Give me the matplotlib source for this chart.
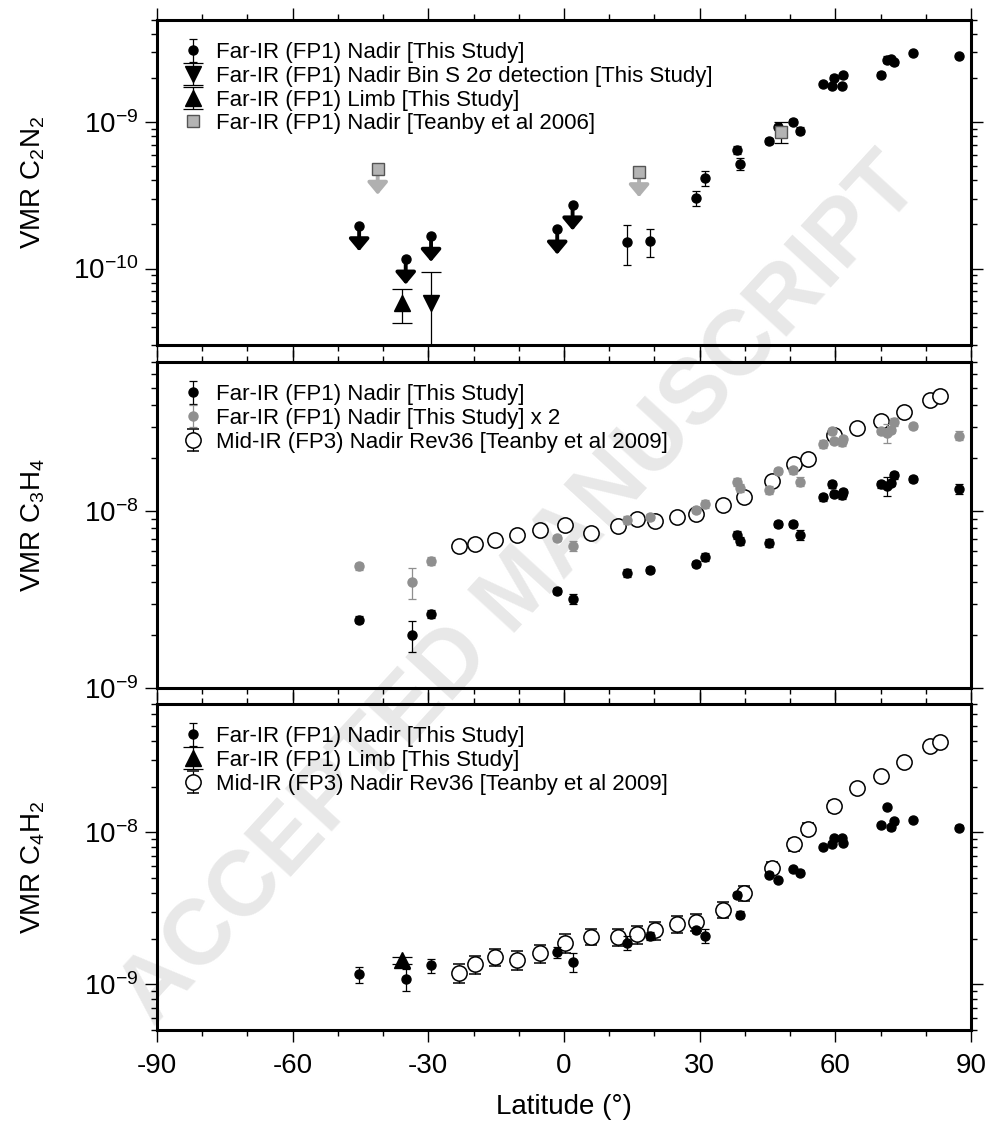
import numpy as np
import matplotlib.pyplot as plt
from matplotlib.ticker import MultipleLocator, LogLocator, NullFormatter

plt.rcParams['font.family'] = ['Liberation Sans', 'DejaVu Sans']
plt.rcParams['mathtext.fontset'] = 'custom'
plt.rcParams['mathtext.rm'] = 'Liberation Sans'
plt.rcParams['mathtext.it'] = 'Liberation Sans:italic'
plt.rcParams['mathtext.bf'] = 'Liberation Sans:bold'
plt.rcParams['axes.unicode_minus'] = False

# ---------------- C2N2 ----------------
c2n2_lat = [14.0, 19.1, 29.2, 31.2, 38.2, 39.0, 45.3, 47.3, 50.7, 52.1, 57.3, 59.3, 59.6,
            61.4, 61.8, 70.1, 71.5, 72.2, 73.0, 77.1, 87.4]
c2n2_vmr = [1.52e-10, 1.55e-10, 3.04e-10, 4.16e-10, 6.48e-10, 5.2e-10, 7.5e-10, 9.3e-10,
            1.01e-9, 8.78e-10, 1.82e-9, 1.78e-9, 2.02e-9, 1.78e-9, 2.09e-9, 2.12e-9,
            2.67e-9, 2.71e-9, 2.57e-9, 2.98e-9, 2.84e-9]
c2n2_hi = [1.97e-10, 1.87e-10, 3.41e-10, 4.67e-10, 6.9e-10, 5.66e-10, 7.85e-10, 9.6e-10,
           1.05e-9, 9.3e-10, 1.88e-9, 1.84e-9, 2.09e-9, 1.84e-9, 2.16e-9, 2.2e-9,
           2.85e-9, 2.8e-9, 2.66e-9, 3.08e-9, 2.94e-9]
c2n2_lo = [1.05e-10, 1.19e-10, 2.67e-10, 3.67e-10, 6.03e-10, 4.69e-10, 7.15e-10, 9.0e-10,
           9.7e-10, 8.3e-10, 1.76e-9, 1.72e-9, 1.95e-9, 1.72e-9, 2.02e-9, 2.05e-9,
           2.55e-9, 2.62e-9, 2.48e-9, 2.88e-9, 2.74e-9]
# upper limits (nadir, this study)
c2n2_ul_lat = [-45.3, -35.0, -29.4, -1.5, 1.9]
c2n2_ul_vmr = [1.96e-10, 1.16e-10, 1.66e-10, 1.86e-10, 2.72e-10]
# bin S 2 sigma detection
c2n2_det_lat = [-29.4]
c2n2_det_vmr = [5.85e-11]
c2n2_det_hi = [9.5e-11]
c2n2_det_lo = [1.0e-11]
# limb
c2n2_limb_lat = [-35.8]
c2n2_limb_vmr = [5.85e-11]
c2n2_limb_hi = [7.27e-11]
c2n2_limb_lo = [4.22e-11]
# Teanby et al 2006
t06_lat = [-41.2, 16.6, 47.9]
t06_vmr = [4.77e-10, 4.59e-10, 8.6e-10]
t06_upper = [True, True, False]
t06_hi = 1.0e-9
t06_lo = 7.16e-10

# ---------------- C3H4 ----------------
c3h4_lat = [-45.3, -33.6, -29.4, -1.5, 1.9, 14.0, 19.1, 29.2, 31.2, 38.2, 39.0, 45.3, 47.3,
            50.7, 52.1, 57.3, 59.3, 59.6, 61.4, 61.8, 70.1, 71.5, 72.2, 73.0, 77.1, 87.4]
c3h4_vmr = [2.44e-9, 2.0e-9, 2.62e-9, 3.53e-9, 3.19e-9, 4.47e-9, 4.66e-9, 5.06e-9, 5.52e-9,
            7.34e-9, 6.8e-9, 6.62e-9, 8.45e-9, 8.52e-9, 7.35e-9, 1.2e-8, 1.42e-8, 1.25e-8,
            1.24e-8, 1.28e-8, 1.42e-8, 1.39e-8, 1.45e-8, 1.6e-8, 1.52e-8, 1.34e-8]
c3h4_err = [1.2e-10, 4.0e-10, 1.3e-10, 1.4e-10, 2.0e-10, 2.2e-10, 1.9e-10, 2.0e-10, 2.8e-10,
            3.7e-10, 3.4e-10, 3.3e-10, 3.4e-10, 3.4e-10, 4.4e-10, 6.0e-10, 5.7e-10, 5.0e-10,
            6.2e-10, 5.1e-10, 5.7e-10, 1.65e-9, 5.8e-10, 8.0e-10, 6.1e-10, 8.0e-10]
c3h4_scale = 2

# Mid-IR FP3 Rev36 (Teanby et al 2009), same latitudes for both species
mir_lat = [-23.2, -19.7, -15.3, -10.4, -5.4, 0.2, 5.9, 11.9, 16.1, 20.1, 25.0, 29.2, 35.1,
           39.9, 46.0, 50.8, 53.9, 59.8, 64.8, 70.2, 75.1, 80.9, 83.1]
c3h4_mir_vmr = [6.4e-9, 6.53e-9, 6.89e-9, 7.38e-9, 7.81e-9, 8.37e-9, 7.58e-9, 8.26e-9,
                9.01e-9, 8.78e-9, 9.29e-9, 9.62e-9, 1.08e-8, 1.2e-8, 1.48e-8, 1.85e-8,
                1.97e-8, 2.69e-8, 2.97e-8, 3.25e-8, 3.67e-8, 4.25e-8, 4.48e-8]
c3h4_mir_err = [1.9e-10, 2.0e-10, 2.1e-10, 2.2e-10, 2.3e-10, 2.5e-10, 2.3e-10, 2.5e-10,
                2.7e-10, 2.6e-10, 2.8e-10, 2.9e-10, 3.2e-10, 3.6e-10, 4.4e-10, 5.5e-10,
                5.9e-10, 8.0e-10, 8.9e-10, 9.7e-10, 1.1e-9, 1.3e-9, 1.3e-9]

# ---------------- C4H2 ----------------
c4h2_lat = [-45.3, -35.0, -29.4, -1.5, 1.9, 14.0, 19.1, 29.2, 31.2, 38.2, 39.0, 45.3, 47.3,
            50.7, 52.1, 57.3, 59.3, 59.6, 61.4, 61.8, 70.1, 71.5, 72.2, 73.0, 77.1, 87.4]
c4h2_vmr = [1.16e-9, 1.08e-9, 1.33e-9, 1.63e-9, 1.4e-9, 1.88e-9, 2.08e-9, 2.28e-9, 2.09e-9,
            3.89e-9, 2.87e-9, 5.27e-9, 4.86e-9, 5.74e-9, 5.43e-9, 8.0e-9, 8.43e-9, 9.13e-9,
            9.13e-9, 8.5e-9, 1.12e-8, 1.47e-8, 1.08e-8, 1.18e-8, 1.21e-8, 1.07e-8]
c4h2_err = [1.45e-10, 1.8e-10, 1.4e-10, 1.3e-10, 2.0e-10, 2.0e-10, 1.3e-10, 1.2e-10, 2.3e-10,
            1.7e-10, 1.5e-10, 2.0e-10, 1.8e-10, 2.0e-10, 2.0e-10, 2.8e-10, 3.0e-10, 3.0e-10,
            3.0e-10, 3.0e-10, 4.0e-10, 5.0e-10, 4.0e-10, 4.0e-10, 4.0e-10, 4.0e-10]
c4h2_limb_lat = [-35.8]
c4h2_limb_vmr = [1.44e-9]
c4h2_limb_err = [7e-11]
c4h2_mir_vmr = [1.19e-9, 1.35e-9, 1.52e-9, 1.45e-9, 1.6e-9, 1.87e-9, 2.05e-9, 2.05e-9,
                2.13e-9, 2.27e-9, 2.5e-9, 2.56e-9, 3.1e-9, 3.97e-9, 5.86e-9, 8.34e-9,
                1.06e-8, 1.49e-8, 1.97e-8, 2.36e-8, 2.92e-8, 3.72e-8, 3.91e-8]
c4h2_mir_err = [1.7e-10, 1.75e-10, 1.95e-10, 2.15e-10, 2.1e-10, 2.6e-10, 2.5e-10, 2.6e-10,
                2.8e-10, 3.0e-10, 3.2e-10, 3.3e-10, 3.8e-10, 4.4e-10, 5.0e-10, 7.5e-10,
                9.5e-10, 1.3e-9, 1.2e-9, 1.4e-9, 1.7e-9, 2.2e-9, 2.3e-9]

GRAY = '#8f8f8f'
SQ_GRAY = '#b4b4b4'
ARROW_GRAY = '#b0b0b0'
arrow_fac = 0.67


def down_arrow(ax, x, y, color):
    ax.annotate('', xy=(x, y * arrow_fac), xytext=(x, y),
                arrowprops=dict(arrowstyle='-|>,head_width=0.5,head_length=0.6',
                                lw=2.8, color=color, shrinkA=0, shrinkB=0,
                                mutation_scale=12), zorder=3)


leg_kw = dict(loc='upper left', frameon=False, fontsize=16, labelspacing=0.12,
              handlelength=1.2, handletextpad=0.45, borderaxespad=0.5,
              borderpad=0.5)

fig = plt.figure(figsize=(9.92, 11.37), dpi=100)
fig.text(0.525, 0.48, 'ACCEPTED MANUSCRIPT', rotation=47.5, fontsize=66,
         fontweight='bold', color='#e8e8e8', ha='center', va='center', zorder=-1)

L, W, H = 157 / 992, 814 / 992, 326 / 1137
ax1 = fig.add_axes([L, 1 - 345 / 1137, W, 325 / 1137])
ax2 = fig.add_axes([L, 1 - 688 / 1137, W, H])
ax3 = fig.add_axes([L, 1 - 1030 / 1137, W, H])

# ---- top panel ----
v = np.array(c2n2_vmr)
h_nad = ax1.errorbar(c2n2_lat, v, yerr=[v - np.array(c2n2_lo), np.array(c2n2_hi) - v],
                     fmt='o', color='k', ms=6.5, elinewidth=0.9, capsize=2.6, capthick=0.9,
                     zorder=3)
for x, y in zip(c2n2_ul_lat, c2n2_ul_vmr):
    ax1.plot(x, y, 'o', color='k', ms=6.5, zorder=3)
    down_arrow(ax1, x, y, 'k')
v = np.array(c2n2_det_vmr)
h_det = ax1.errorbar(c2n2_det_lat, v, yerr=[v - np.array(c2n2_det_lo), np.array(c2n2_det_hi) - v],
                     fmt='v', color='k', ms=12, elinewidth=0.9, capsize=7, capthick=0.9)
v = np.array(c2n2_limb_vmr)
h_limb = ax1.errorbar(c2n2_limb_lat, v,
                      yerr=[v - np.array(c2n2_limb_lo), np.array(c2n2_limb_hi) - v],
                      fmt='^', color='k', ms=12, elinewidth=0.9, capsize=7, capthick=0.9)
for x, y, up in zip(t06_lat, t06_vmr, t06_upper):
    if up:
        down_arrow(ax1, x, y, ARROW_GRAY)
    else:
        ax1.errorbar([x], [y], yerr=[[y - t06_lo], [t06_hi - y]], fmt='none', ecolor='k',
                     elinewidth=0.9, capsize=5, capthick=0.9, zorder=4)
h_t06, = ax1.plot(t06_lat, t06_vmr, 's', ms=9, mfc=SQ_GRAY, mec='#555555', mew=1.0,
                  zorder=5)
ax1.set_ylim(3e-11, 5e-9)
ax1.set_ylabel('VMR C$_2$N$_2$')
ax1.legend([h_nad, h_det, h_limb, h_t06],
           ['Far-IR (FP1) Nadir [This Study]',
            'Far-IR (FP1) Nadir Bin S 2\u03c3 detection [This Study]',
            'Far-IR (FP1) Limb [This Study]',
            'Far-IR (FP1) Nadir [Teanby et al 2006]'], **leg_kw)

# ---- middle panel ----
v = np.array(c3h4_vmr)
e = np.array(c3h4_err)
h_b = ax2.errorbar(c3h4_lat, v, yerr=e, fmt='o', color='k', ms=6.5, elinewidth=0.9,
                   capsize=2.6, capthick=0.9, zorder=3)
h_g = ax2.errorbar(c3h4_lat, v * c3h4_scale, yerr=e * c3h4_scale, fmt='o', color=GRAY,
                   ms=6.5, elinewidth=0.9, capsize=2.6, capthick=0.9, zorder=3)
h_m = ax2.errorbar(mir_lat, c3h4_mir_vmr, yerr=c3h4_mir_err, fmt='o', mfc='white', mec='k',
                   ecolor='k', ms=11, mew=1.1, elinewidth=0.9, capsize=4.3, capthick=0.9,
                   zorder=2)
ax2.set_ylim(1e-9, 7e-8)
ax2.set_ylabel('VMR C$_3$H$_4$')
ax2.legend([h_b, h_g, h_m],
           ['Far-IR (FP1) Nadir [This Study]',
            'Far-IR (FP1) Nadir [This Study] x 2',
            'Mid-IR (FP3) Nadir Rev36 [Teanby et al 2009]'], **leg_kw)

# ---- bottom panel ----
h_b3 = ax3.errorbar(c4h2_lat, c4h2_vmr, yerr=c4h2_err, fmt='o', color='k', ms=6.5,
                    elinewidth=0.9, capsize=2.6, capthick=0.9, zorder=3)
h_l3 = ax3.errorbar(c4h2_limb_lat, c4h2_limb_vmr, yerr=c4h2_limb_err, fmt='^', color='k',
                    ms=12, elinewidth=0.9, capsize=7, capthick=0.9, zorder=4)
h_m3 = ax3.errorbar(mir_lat, c4h2_mir_vmr, yerr=c4h2_mir_err, fmt='o', mfc='white', mec='k',
                    ecolor='k', ms=11, mew=1.1, elinewidth=0.9, capsize=4.3, capthick=0.9,
                    zorder=2)
ax3.set_ylim(5e-10, 7e-8)
ax3.set_ylabel('VMR C$_4$H$_2$')
ax3.legend([h_b3, h_l3, h_m3],
           ['Far-IR (FP1) Nadir [This Study]',
            'Far-IR (FP1) Limb [This Study]',
            'Mid-IR (FP3) Nadir Rev36 [Teanby et al 2009]'], **leg_kw)
ax3.set_xlabel('Latitude (\u00b0)', fontsize=20)

for ax in (ax1, ax2, ax3):
    ax.set_facecolor('none')
    ax.set_yscale('log')
    ax.set_xlim(-90, 90)
    ax.xaxis.set_major_locator(MultipleLocator(30))
    ax.xaxis.set_minor_locator(MultipleLocator(10))
    ax.yaxis.set_major_locator(LogLocator(base=10))
    ax.yaxis.set_minor_locator(LogLocator(base=10, subs=np.arange(2, 10)))
    ax.yaxis.set_minor_formatter(NullFormatter())
    ax.tick_params(which='both', direction='out', top=True, right=True, width=1.0,
                   labelbottom=False)
    ax.tick_params(which='major', length=8.5)
    ax.tick_params(which='minor', length=4.5)
    ax.tick_params(axis='y', labelsize=20, pad=5)
    for s in ax.spines.values():
        s.set_linewidth(2.2)
    ax.yaxis.label.set_size(20)
    ax.yaxis.set_label_coords(-0.135, 0.5)

ax3.tick_params(axis='x', labelbottom=True, labelsize=20, pad=8)
ax3.xaxis.set_label_coords(0.5, -0.195)

fig.savefig('out.png', dpi=100)
